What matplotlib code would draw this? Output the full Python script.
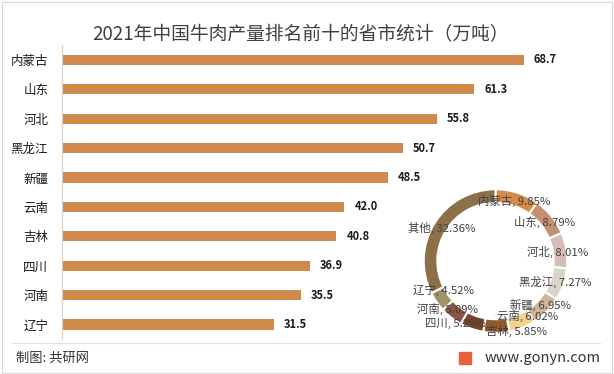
import numpy as np
import matplotlib
matplotlib.use("Agg")
import matplotlib.pyplot as plt
from matplotlib.patches import Rectangle
from matplotlib.lines import Line2D

plt.rcParams['font.family'] = ['Noto Sans CJK SC', 'DejaVu Sans']

# data
provinces = ['内蒙古', '山东', '河北', '黑龙江', '新疆', '云南', '吉林', '四川', '河南', '辽宁']
output = [68.7, 61.3, 55.8, 50.7, 48.5, 42.0, 40.8, 36.9, 35.5, 31.5]
share_labels = provinces + ['其他']
share_pct = [9.85, 8.79, 8.01, 7.27, 6.95, 6.02, 5.85, 5.29, 5.09, 4.52, 32.36]
ring_colors = ['#D58B4B', '#C39170', '#D7BDBA', '#D9D5C9', '#CDB596', '#F2D38C',
               '#8E5A2E', '#7A4527', '#8C5544', '#A29464', '#8C7049']

BAR_COLOR = '#D08A4E'

fig = plt.figure(figsize=(6.14, 3.74), dpi=100)

# bar chart
ax = fig.add_axes([0.101, 0.093, 0.876, 0.786])
y = np.arange(len(provinces))
ax.barh(y, output, height=0.35, color=BAR_COLOR)
for yi, v in zip(y, output):
    ax.text(v + 1.5, yi, f'{v:.1f}', va='center', ha='left', fontsize=8,
            fontweight='bold', color='#1a1a1a')
ax.set_yticks(y)
ax.set_yticklabels(provinces, fontsize=9, color='#1a1a1a')
ax.set_ylim(len(provinces) - 0.5, -0.5)
ax.set_xlim(0, 80)
ax.set_xticks([])
ax.tick_params(axis='y', length=0, pad=10)
for s in ['top', 'right', 'bottom']:
    ax.spines[s].set_visible(False)
ax.spines['left'].set_color('#d0d0d0')

# donut inset
ax2 = fig.add_axes([0.690, 0.110, 0.234, 0.384])
wedges, texts = ax2.pie(share_pct, colors=ring_colors, startangle=90,
                        counterclock=False, radius=1.0,
                        wedgeprops=dict(width=0.19, edgecolor='white', linewidth=1.5),
                        labels=[f'{n}, {p:.2f}%' for n, p in zip(share_labels, share_pct)],
                        labeldistance=0.88,
                        textprops=dict(fontsize=8.2, color='#404040'))
for t in texts:
    t.set_ha('center')
    t.set_va('center')
# crowded labels at the bottom of the ring, spread a little
nudge = {'云南': (0.12, 0.05), '吉林': (0.29, -0.1), '四川': (-0.26, -0.04),
         '河南': (-0.12, 0.03), '辽宁': (0.0, 0.1)}
for t, n in zip(texts, share_labels):
    if n in nudge:
        x0, y0 = t.get_position()
        t.set_position((x0 + nudge[n][0], y0 + nudge[n][1]))
ax2.set_aspect('equal')
ax2.set_xlim(-1, 1)
ax2.set_ylim(-1, 1)
ax2.axis('off')

# title
fig.text(0.49, 0.908, '2021年中国牛肉产量排名前十的省市统计（万吨）', ha='center',
         va='center', fontsize=13.5, color='#404040')

# footer
fig.add_artist(Line2D([0.02, 0.978], [0.083, 0.083], color='#e0e0e0', lw=0.8))
fig.text(0.026, 0.043, '制图: 共研网', ha='left', va='center', fontsize=9.5, color='#333333')
fig.text(0.978, 0.043, 'www.gonyn.com', ha='right', va='center', fontsize=10.5, color='#333333')
fig.add_artist(Rectangle((0.748, 0.027), 0.019, 0.032, color='#E8603C'))

# border
fig.add_artist(Rectangle((0.004, 0.004), 0.992, 0.99, fill=False, edgecolor='#d8d8d8', lw=0.8))

fig.savefig('out.png', dpi=100)
